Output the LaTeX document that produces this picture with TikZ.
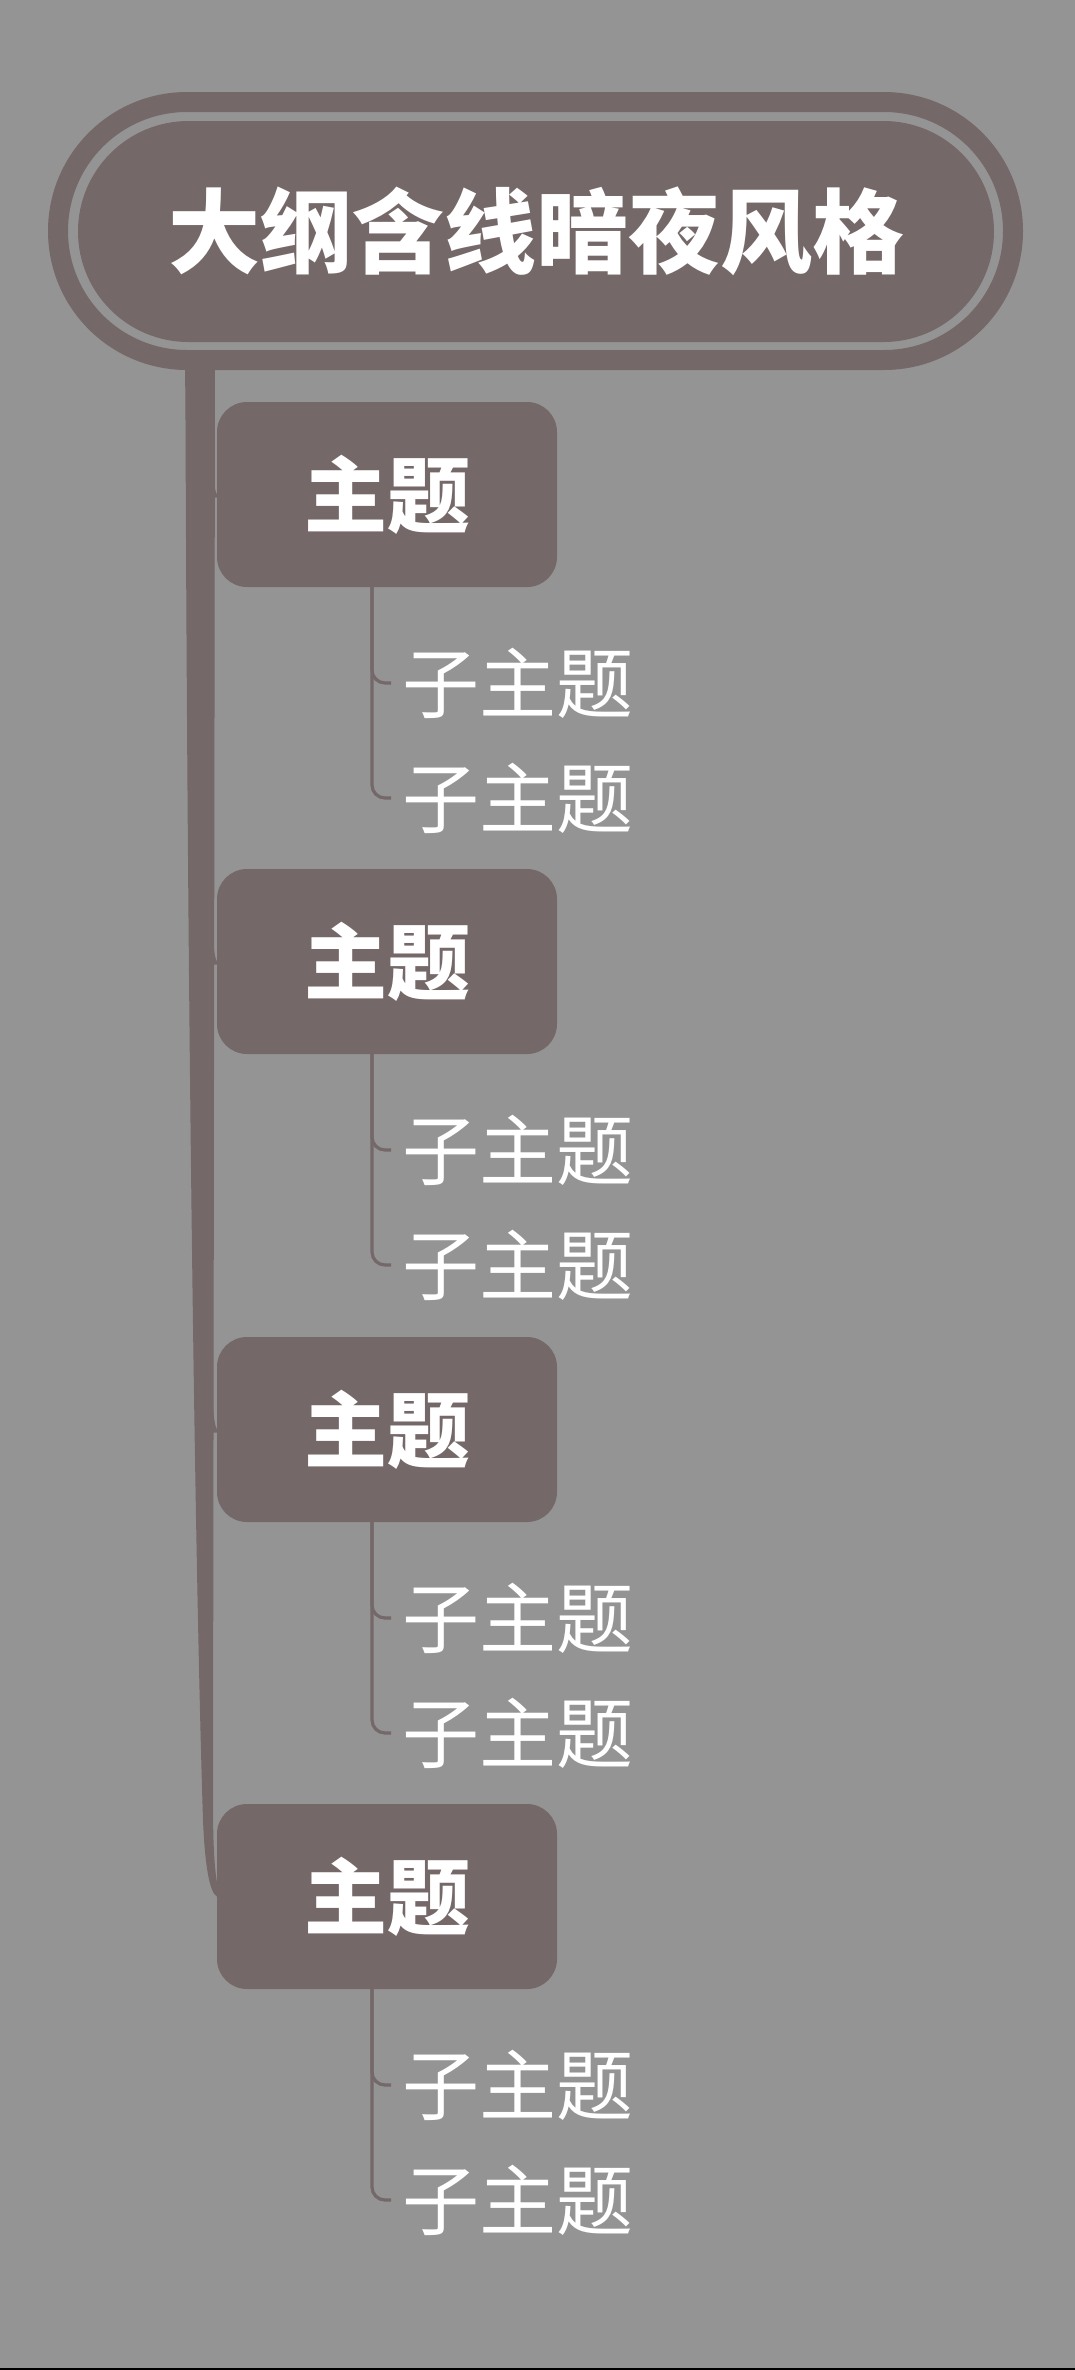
\documentclass[tikz,border=0pt]{standalone}
\usepackage{fontspec}
\newfontfamily\cjk{Noto Sans CJK SC}
\usetikzlibrary{shapes.misc,calc}
\definecolor{bg}{HTML}{949494}
\definecolor{brn}{HTML}{756868}
\begin{document}
\begin{tikzpicture}[x=1pt,y=-1pt,
  titlefill/.style={rounded rectangle, fill=brn, minimum width=916pt, minimum height=221pt, inner sep=0pt, outer sep=0pt, text=white, font=\cjk\bfseries\fontsize{92}{100}\selectfont},
  titlering/.style={rounded rectangle, draw=brn, line width=20pt, minimum width=955pt, minimum height=258pt, inner sep=0pt, outer sep=0pt},
  mainbox/.style={rectangle, rounded corners=30pt, fill=brn, minimum width=340pt, minimum height=185pt, inner sep=0pt, outer sep=0pt, text=white, font=\cjk\bfseries\fontsize{83}{90}\selectfont},
  subtext/.style={anchor=west, inner sep=0pt, outer sep=0pt, text=white, font=\cjk\fontsize{77}{80}\selectfont},
  subline/.style={draw=brn, line width=3.2pt, rounded corners=13pt},
  spine/.style={fill=brn}
]
\fill[bg] (0,0) rectangle (1075,2370);
\useasboundingbox (0,0) rectangle (1075,2370);
\fill[black] (0,2368) rectangle (1075,2370);

\node[titlering] (ring) at (535.5,231) {};
\node[titlefill] (title) at (536,231.5) {大纲含线暗夜风格};

\foreach \i/\y in {1/494.5,2/961.5,3/1429.5,4/1896.5}{
  \node[mainbox] (m\i) at (387,\y) {主题};
  \node[subtext] (sa\i) at (402,\y+188.5) {子主题};
  \node[subtext] (sb\i) at (402,\y+303.5) {子主题};
  \draw[subline] ([xshift=-15pt]m\i.south) |- ([xshift=-11pt]sa\i.west);
  \draw[subline] ([xshift=-15pt]m\i.south) |- ([xshift=-11pt]sb\i.west);
}

% main spine from title ring to topics
\coordinate (spinetop) at (200,355);
\fill[spine] ([xshift=-15pt]spinetop) -- (185.5,420) .. controls (188,1100) and (196,1600) .. (203,1820) .. controls (205,1868) and (210,1893) .. (m4.west) -- ++(0,-14) .. controls (214,1865) and (213,1840) .. (213,1800) -- ([xshift=15pt]spinetop) -- cycle;
\foreach \i in {1,2,3}{
  \fill[spine] ($(m\i.west)+(-4,-24)$) .. controls ($(m\i.west)+(-3,-6)$) and ($(m\i.west)+(-1,-2)$) .. (m\i.west) -- ($(m\i.west)+(0,3)$) -- ($(m\i.west)+(-4,3)$) -- cycle;
}
\end{tikzpicture}
\end{document}
